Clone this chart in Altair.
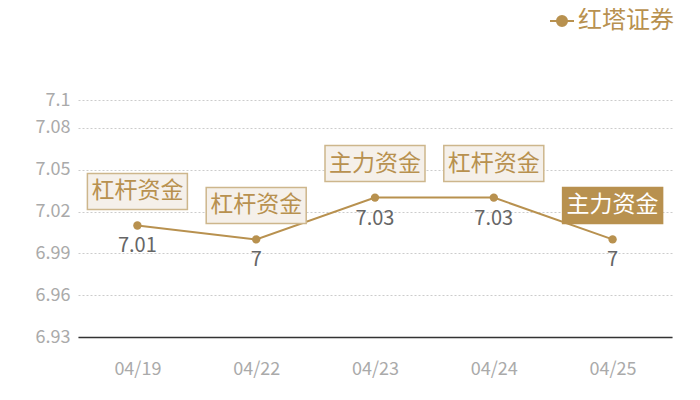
import altair as alt
import pandas as pd

dates = ["04/19", "04/22", "04/23", "04/24", "04/25"]
values = [7.01, 7.00, 7.03, 7.03, 7.00]
tags = ["杠杆资金", "杠杆资金", "主力资金", "杠杆资金", "主力资金"]
highlight = [0, 0, 0, 0, 1]
series = "红塔证券"
y_ticks = [6.93, 6.96, 6.99, 7.02, 7.05, 7.08, 7.1]

GOLD = "#b8914f"
BEIGE = "#f5f0ea"
FONT = "Noto Sans CJK SC"

df = pd.DataFrame({"date": dates, "value": values, "tag": tags,
                   "hl": highlight, "series": series})

x = alt.X("date:N", sort=dates, scale=alt.Scale(paddingInner=0, paddingOuter=0),
          axis=alt.Axis(title=None, labelAngle=0, ticks=False, grid=False,
                        domainColor="#333333", domainWidth=1.5,
                        labelColor="#aaaaaa", labelFontSize=18, labelPadding=23,
                        labelFont=FONT))
y = alt.Y("value:Q", scale=alt.Scale(domain=[6.93, 7.1], nice=False, zero=False),
          axis=alt.Axis(title=None, values=y_ticks, format=".2~f", domain=False,
                        ticks=False, gridColor="#cccccc", gridDash=[2, 2],
                        labelColor="#aaaaaa", labelFontSize=18, labelPadding=8,
                        labelFont=FONT))

base = alt.Chart(df).encode(x=x, y=y)

legend_shape = "M-1,0H1M-0.42,0A0.42,0.42 0 1,0 0.42,0A0.42,0.42 0 1,0 -0.42,0Z"

line = base.mark_line(strokeWidth=2).encode(
    color=alt.Color("series:N", scale=alt.Scale(range=[GOLD]),
                    legend=alt.Legend(title=None, orient="none", legendX=471, legendY=-92,
                                      symbolType=legend_shape, symbolSize=576,
                                      symbolStrokeWidth=2, symbolFillColor=GOLD,
                                      symbolStrokeColor=GOLD, labelColor=GOLD,
                                      labelFontSize=24, labelFont=FONT, labelOffset=3,
                                      padding=0)))
points = base.mark_circle(size=70, opacity=1, color=GOLD)

box = base.mark_point(shape="M-1,-0.36H1V0.36H-1Z", size=10000, filled=False,
                      strokeWidth=1.5, yOffset=-34, opacity=1, fillOpacity=1).encode(
    fill=alt.condition("datum.hl == 1", alt.value(GOLD), alt.value(BEIGE)),
    stroke=alt.condition("datum.hl == 1", alt.value(GOLD), alt.value("#cdb68c")))

box_text = base.mark_text(yOffset=-34, fontSize=23, font=FONT, baseline="middle").encode(
    text="tag:N",
    color=alt.condition("datum.hl == 1", alt.value("#ffffff"), alt.value(GOLD)))

val_text = base.mark_text(yOffset=21, fontSize=20, font=FONT, color="#666666",
                          baseline="middle").encode(
    text=alt.Text("value:Q", format=".2~f"))

chart = alt.layer(line, points, box, box_text, val_text).properties(
    width=594, height=237,
    autosize=alt.AutoSizeParams(type="none"),
    padding={"left": 70, "top": 92, "right": 20, "bottom": 55},
).configure(font=FONT).configure_view(strokeWidth=0, stroke="transparent")

chart.save("out.html", embed_options={"renderer": "svg", "actions": False})
